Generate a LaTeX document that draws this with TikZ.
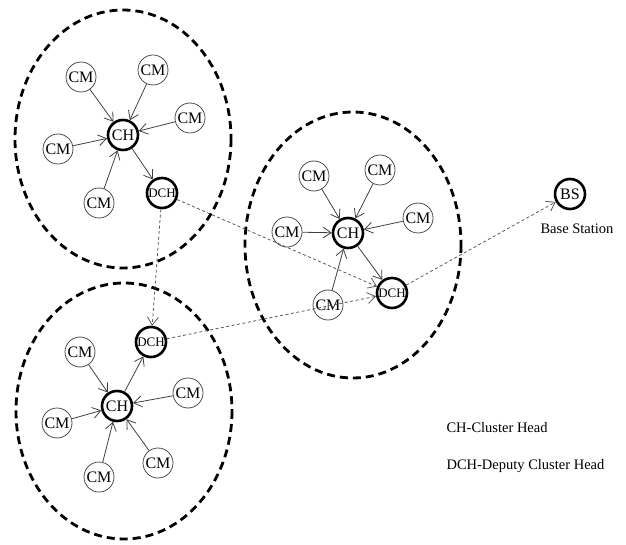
\documentclass[tikz,border=0pt]{standalone}
\usepackage{fontspec}
\setmainfont{Liberation Serif}
\usetikzlibrary{arrows.meta}
\tikzset{>={Straight Barb[length=8pt,width=11pt]}}
\tikzset{
  member/.style = {circle, draw=black!70, line width=0.8pt, minimum size=30pt,
    inner sep=0pt, font=\fontsize{16}{16}\selectfont},
  head/.style = {circle, draw, line width=2.6pt, minimum size=30pt,
    inner sep=0pt, font=\fontsize{16}{16}\selectfont},
  deputy/.style = {head, font=\fontsize{13}{13}\selectfont},
  cluster/.style = {line width=2.8pt, dash pattern=on 8pt off 5pt},
  link/.style = {->, draw=black!75, line width=0.8pt},
  hop/.style = {->, draw=black!65, line width=0.8pt, dash pattern=on 3pt off 2.5pt}
}

\begin{document}
\begin{tikzpicture}[x=1pt,y=-1pt]
  \useasboundingbox (0,0) rectangle (626,545);
  % cluster borders
  \draw[cluster] (123,139) ellipse [x radius=108, y radius=129];
  \draw[cluster] (353,245) ellipse [x radius=108, y radius=133];
  \draw[cluster] (124,411) ellipse [x radius=108, y radius=128];
  %
  % cluster 1
  \node[head]   (ch1)  at (123,135) {CH};
  \node[deputy] (dch1) at (162,193) {DCH};
  \node[member] (m11)  at (81,77)   {CM};
  \node[member] (m12)  at (153,70)  {CM};
  \node[member] (m13)  at (190,118) {CM};
  \node[member] (m14)  at (58,149)  {CM};
  \node[member] (m15)  at (99,203)  {CM};
  \foreach \m in {m11,m12,m13,m14,m15}
    \draw[link] (\m) -- (ch1);
  \draw[link] (ch1) -- (dch1);
  %
  % cluster 2
  \node[head]   (ch2)  at (348,233) {CH};
  \node[deputy] (dch2) at (392,293) {DCH};
  \node[member] (m21)  at (314,176) {CM};
  \node[member] (m22)  at (380,170) {CM};
  \node[member] (m23)  at (418,218) {CM};
  \node[member] (m24)  at (287,232) {CM};
  \node[member] (m25)  at (328,305) {CM};
  \foreach \m in {m21,m22,m23,m24,m25}
    \draw[link] (\m) -- (ch2);
  \draw[link] (ch2) -- (dch2);
  %
  % cluster 3
  \node[head]   (ch3)  at (117,406) {CH};
  \node[deputy] (dch3) at (151,342) {DCH};
  \node[member] (m31)  at (80,352)  {CM};
  \node[member] (m32)  at (188,393) {CM};
  \node[member] (m33)  at (57,423)  {CM};
  \node[member] (m34)  at (158,463) {CM};
  \node[member] (m35)  at (99,477)  {CM};
  \foreach \m in {m31,m32,m33,m34,m35}
    \draw[link] (\m) -- (ch3);
  \draw[link] (ch3) -- (dch3);
  %
  % base station and hops between deputies
  \node[head] (bs) at (570,194) {BS};
  \node[font=\fontsize{14.5}{14.5}\selectfont] (bslabel) at (577,229) {Base Station};
  \draw[hop] (dch1) -- (dch3);
  \draw[hop] (dch1) -- (dch2);
  \draw[hop] (dch3) -- (dch2);
  \draw[hop] (dch2) -- (bs);
  %
  % legend
  \node[anchor=west, font=\fontsize{14.5}{14.5}\selectfont] (keych)  at (443,428) {CH-Cluster Head};
  \node[anchor=west, font=\fontsize{14.5}{14.5}\selectfont] (keydch) at (443,466) {DCH-Deputy Cluster Head};
\end{tikzpicture}
\end{document}
